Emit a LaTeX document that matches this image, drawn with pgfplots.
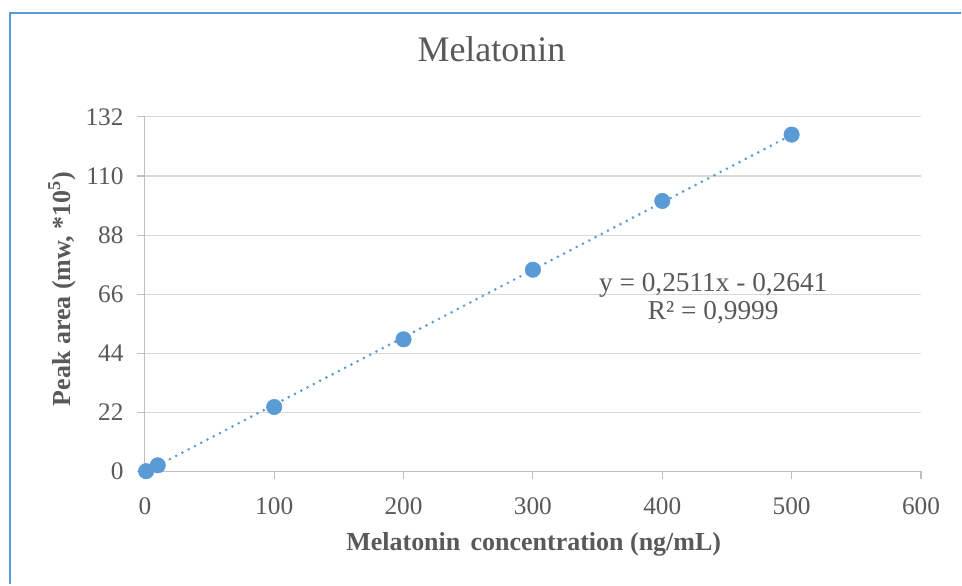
\documentclass[border=0pt]{standalone}
\usepackage{pgfplots}
\pgfplotsset{compat=1.18}
\usepackage{fontspec}
\setmainfont{Liberation Serif}
\definecolor{mblue}{HTML}{5B9BD5}
\definecolor{tickgray}{HTML}{595959}
\definecolor{gridgray}{HTML}{D9D9D9}
\definecolor{axgray}{HTML}{BFBFBF}
\begin{document}
\begin{tikzpicture}
\path (0,0) rectangle (721.5pt,438.75pt);
\draw[mblue, line width=1.6pt] (7.8pt,0pt) -- (7.8pt,429pt) -- (721.5pt,429pt);
\begin{axis}[
  at={(108.75pt,84.75pt)}, anchor=origin,
  scale only axis, width=582.75pt, height=266.25pt,
  xmin=0, xmax=600, ymin=0, ymax=132,
  xtick={0,100,...,600}, ytick={0,22,...,132},
  axis lines*=left,
  axis line style={axgray, line width=0.8pt},
  ymajorgrids, grid style={gridgray, line width=0.8pt},
  tick align=outside, major tick length=6pt,
  tick style={axgray, line width=0.8pt},
  /pgf/number format/assume math mode=true,
  ticklabel style={font=\fontsize{19}{22}\selectfont, text=tickgray},
  yticklabel style={xshift=-6.5pt},
  xticklabel style={yshift=-10pt},
  title={Melatonin},
  title style={font=\fontsize{27}{30}\selectfont, text=tickgray, at={(axis description cs:0.4466,1.169)}, anchor=center},
  xlabel={\textbf{Melatonin\hspace{0.4em}concentration (ng/mL)}},
  xlabel style={font=\fontsize{19.5}{22}\selectfont, text=tickgray, at={(axis description cs:0.501,-0.2056)}, anchor=center},
  ylabel={\textbf{Peak area (mw, *10\textsuperscript{5})}},
  ylabel style={font=\fontsize{19.5}{22}\selectfont, text=tickgray, at={(axis description cs:-0.1068,0.515)}, anchor=center, rotate=0},
  clip=false,
]
\addplot[mblue, line width=2.2pt, dash pattern=on 0pt off 5.3pt, line cap=round] coordinates {(0,-0.2641) (500,125.2859)};
\addplot[only marks, mark=*, mark size=5.8pt, mark options={fill=mblue, draw=mblue}] coordinates {
(1,0.1) (10,2.3) (100,24.0) (200,49.2) (300,75.1) (400,100.7) (500,125.4)};
\node[font=\fontsize{20.5}{21}\selectfont, text=tickgray, align=center] at (axis cs:439.4,64.3) {y = 0,2511x - 0,2641\\R² = 0,9999};
\end{axis}
\end{tikzpicture}
\end{document}
